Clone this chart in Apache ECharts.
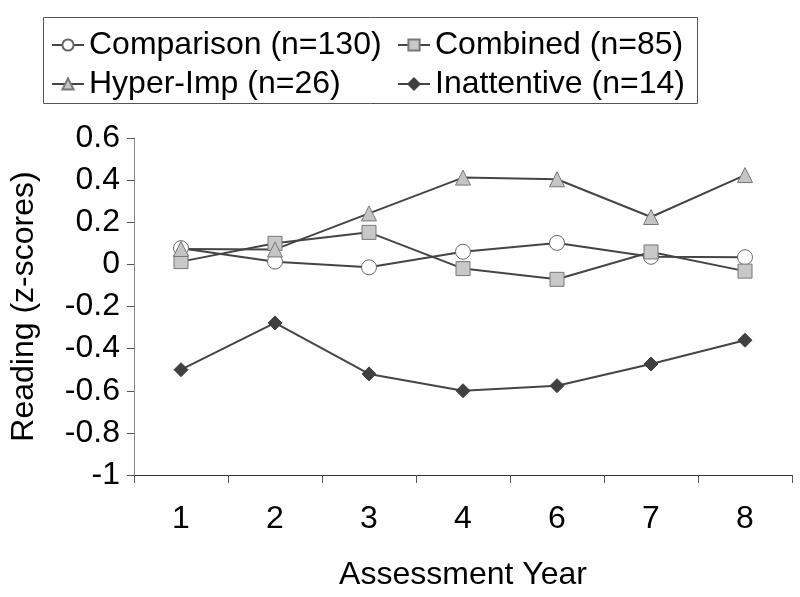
<!DOCTYPE html>
<html><head><meta charset="utf-8">
<script src="https://cdn.jsdelivr.net/npm/echarts@6/dist/echarts.min.js"></script>
<style>html,body{margin:0;padding:0;background:#fff}#c{width:800px;height:597px}</style>
</head><body><div id="c"></div>
<script>
const years = ['1','2','3','4','6','7','8'];
const comparison = [0.077, 0.013, -0.014, 0.060, 0.102, 0.036, 0.034];
const combined = [0.013, 0.100, 0.152, -0.020, -0.071, 0.059, -0.032];
const hyperImp = [0.073, 0.071, 0.242, 0.412, 0.404, 0.225, 0.424];
const inattentive = [-0.500, -0.278, -0.520, -0.600, -0.576, -0.473, -0.360];
const names = ['Comparison (n=130)', 'Combined (n=85)', 'Hyper-Imp (n=26)', 'Inattentive (n=14)'];

const FONT = '"Liberation Sans", Arial, sans-serif';
const lineColor = '#454545';
function mk(name, data, symbol, size, fill, border) {
  return {
    name, type: 'line', data, symbol, symbolSize: size,
    lineStyle: {color: lineColor, width: 2},
    itemStyle: {color: fill, borderColor: border, borderWidth: 1},
    emphasis: {disabled: true}, animation: false
  };
}
const chart = echarts.init(document.getElementById('c'), null, {renderer: 'canvas'});
const legendText = {fontFamily: FONT, fontSize: 32, color: '#000'};
chart.setOption({
  animation: false,
  grid: {left: 130, right: 8, top: 138, bottom: 122, containLabel: false},
  legend: [
    {data: [names[0], names[2]], orient: 'vertical', left: 46, top: 24, itemGap: 7,
     itemWidth: 32, itemHeight: 14, textStyle: legendText, selectedMode: false},
    {data: [names[1], names[3]], orient: 'vertical', left: 392, top: 24, itemGap: 7,
     itemWidth: 32, itemHeight: 14, textStyle: legendText, selectedMode: false}
  ],
  graphic: [{type: 'rect', shape: {x: 43.5, y: 17.5, width: 654, height: 86},
    style: {fill: 'none', stroke: '#555', lineWidth: 1}, silent: true, z: -1}],
  xAxis: {
    type: 'category', data: years, boundaryGap: true,
    axisLine: {onZero: false, lineStyle: {color: '#333', width: 1}},
    axisTick: {show: true, length: 8, lineStyle: {color: '#555'}},
    axisLabel: {fontFamily: FONT, fontSize: 32, color: '#000', margin: 28},
    name: 'Assessment Year', nameLocation: 'middle', nameGap: 84,
    nameTextStyle: {fontFamily: FONT, fontSize: 32, color: '#000'}
  },
  yAxis: {
    type: 'value', min: -1, max: 0.6, interval: 0.2,
    splitLine: {show: false},
    axisLine: {show: true, lineStyle: {color: '#888', width: 1}},
    axisTick: {show: true, length: 7, lineStyle: {color: '#555'}},
    axisLabel: {fontFamily: FONT, fontSize: 32, color: '#000', margin: 14,
      formatter: v => String(Math.round(v * 10) / 10)},
    name: 'Reading (z-scores)', nameLocation: 'middle', nameGap: 94, nameRotate: 90,
    nameTextStyle: {fontFamily: FONT, fontSize: 32, color: '#000'}
  },
  series: [
    mk(names[0], comparison, 'circle', 15, '#ffffff', '#666'),
    mk(names[1], combined, 'rect', 14, '#c8c8c8', '#777'),
    mk(names[2], hyperImp, 'triangle', 15, '#c4c4c4', '#777'),
    mk(names[3], inattentive, 'diamond', 14, '#404040', '#404040')
  ]
});
</script></body></html>
